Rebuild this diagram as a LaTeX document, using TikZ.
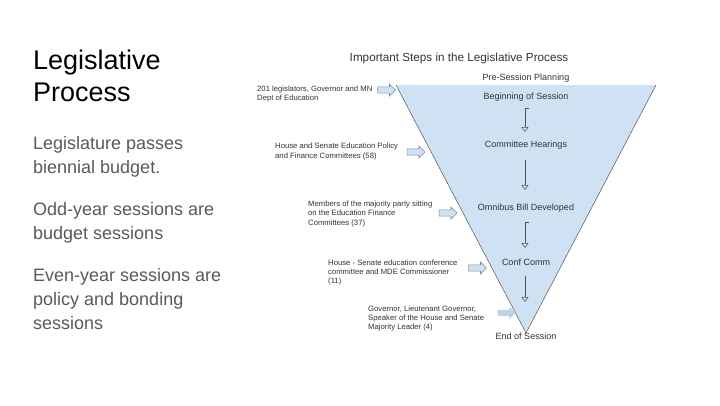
\documentclass[tikz,border=0pt]{standalone}
\usepackage{fontspec}
\setmainfont{Liberation Sans}
\usepackage{xcolor}
\usepackage{tikz}
\usetikzlibrary{shapes,arrows.meta,positioning,calc}

\definecolor{funnelblue}{HTML}{CFE2F3}
\definecolor{feedblue}{HTML}{BCD3EA}
\definecolor{bodygray}{HTML}{595959}
\definecolor{inkgray}{HTML}{333333}
\definecolor{edgegray}{HTML}{555555}
\definecolor{feededge}{HTML}{7A8A9C}

\begin{document}
\begin{tikzpicture}[
    x=1pt, y=-1pt,
    heading/.style={anchor=base west, inner sep=0, align=left,
        font=\fontsize{27}{32}\selectfont},
    bullet/.style={anchor=base west, inner sep=0, align=left, text=bodygray,
        font=\fontsize{18}{24}\selectfont},
    charttitle/.style={anchor=base, inner sep=0, text=inkgray,
        font=\fontsize{11.7}{14}\selectfont},
    stage/.style={anchor=base, inner sep=0, text=inkgray,
        font=\fontsize{9}{11}\selectfont},
    who/.style={anchor=base west, inner sep=0, align=left, text=inkgray,
        font=\fontsize{7.7}{9.3}\selectfont},
    feed/.style={single arrow, draw=feededge, fill=funnelblue, line width=0.6pt,
        minimum height=18pt, inner xsep=0, inner ysep=2.8pt,
        single arrow head extend=3pt},
    flow/.style={-{Triangle[open, length=5pt, width=7pt]}, draw=edgegray, line width=0.5pt}
]
    \useasboundingbox (0,0) rectangle (720,405);

    % Left: slide text (base = last line)
    \node[heading] (title) at (33,101.5) {Legislative\\Process};
    \node[bullet] (budget) at (33,173) {Legislature passes\\biennial budget.};
    \node[bullet] (odd) at (33,239) {Odd-year sessions are\\budget sessions};
    \node[bullet] (even) at (33,329) {Even-year sessions are\\policy and bonding\\sessions};

    % Right: funnel
    \coordinate (ftl) at (396,85);
    \coordinate (ftr) at (656,85);
    \coordinate (fap) at (526,333);
    \fill[funnelblue] (ftl) -- (ftr) -- (fap) -- cycle;
    \draw[edgegray, line width=0.5pt] (ftr) -- (fap) -- (ftl);

    \node[charttitle] (steps) at (459,61) {Important Steps in the Legislative Process};

    % Stages
    \node[stage] (pre) at (526,80) {Pre-Session Planning};
    \node[stage] (begin) at (526,99) {Beginning of Session};
    \node[stage] (hear) at (526,147.5) {Committee Hearings};
    \node[stage] (omni) at (526,210.5) {Omnibus Bill Developed};
    \node[stage] (conf) at (526,265.5) {Conf Comm};
    \node[stage] (end) at (526,339) {End of Session};

    % Flow between stages
    \draw[flow] ($(begin.base)+(3,9)$) -| ($(hear.base)+(-1,-15.5)$);
    \draw[flow] ($(hear.base)+(-1,12.5)$) -- ($(omni.base)+(-1,-20.5)$);
    \draw[flow] ($(omni.base)+(3,11.5)$) -| ($(conf.base)+(-1,-17.5)$);
    \draw[flow] ($(conf.base)+(-1,10.5)$) -- ($(end.base)+(-1,-37)$);

    % Who is involved
    \node[feed] (feedA) at (385,90) {};
    \node[feed] (feedB) at (414.5,152) {};
    \node[feed] (feedC) at (446.5,213) {};
    \node[feed] (feedD) at (476,268) {};
    \node[feed, draw=none, fill=feedblue] (feedE) at (505,313) {};

    \node[who] (whoA) at (257,100.3) {201 legislators, Governor and MN\\Dept of Education};
    \node[who] (whoB) at (275,158) {House and Senate Education Policy\\and Finance Committees (58)};
    \node[who] (whoC) at (308,225) {Members of the majority party sitting\\on the Education Finance\\Committees (37)};
    \node[who] (whoD) at (328,283.6) {House - Senate education conference\\committee and MDE Commissioner\\(11)};
    \node[who] (whoE) at (368,329.6) {Governor, Lieutenant Governor,\\Speaker of the House and Senate\\Majority Leader (4)};
\end{tikzpicture}
\end{document}
